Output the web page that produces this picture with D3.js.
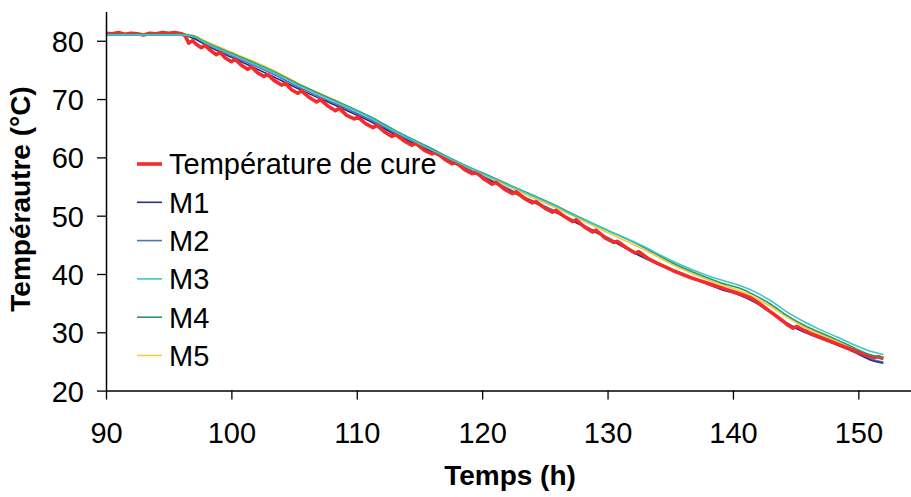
<!DOCTYPE html>
<html>
<head>
<meta charset="utf-8">
<script src="https://cdn.jsdelivr.net/npm/d3@7/dist/d3.min.js"></script>
<style>
  html, body { margin: 0; padding: 0; background: #fff; }
  svg { display: block; }
  text { font-family: "Liberation Sans", Arial, sans-serif; fill: #000; }
</style>
</head>
<body>
<svg id="chart" width="911" height="497"></svg>
<script>
// ---- data ----
const xTicks = [90, 100, 110, 120, 130, 140, 150];
const yTicks = [20, 30, 40, 50, 60, 70, 80];
const xTitle = "Temps (h)";
const yTitle = "Tempérautre (°C)";
const seriesNames = ["Température de cure", "M1", "M2", "M3", "M4", "M5"];
const seriesColors = ["#f52a2a", "#2b2d80", "#5273c2", "#3cc6c4", "#2f9566", "#f2cd3c"];

const cure = [[90,81.3],[90.5,81.2],[91,81.4],[91.5,81.1],[92,81.3],[92.5,81.2],[93,81.0],[93.5,81.3],[94,81.2],[94.5,81.4],[95,81.3],[95.5,81.4],[96,81.2],[96.3,80.9],
 [96.6,79.6],[96.9,80.0],[97.2,79.4],[97.6,78.8],[97.9,79.2],[98.3,78.4],[98.8,77.6],[99.1,78.0],[99.5,77.1],[100,76.4],[100.3,76.8],[100.8,75.8],[101.3,75.1],[101.6,75.5],[102.1,74.5],[102.6,73.9],[102.9,74.2],[103.4,73.2],[104,72.4],[104.3,72.7],[104.8,71.6],[105.3,71.0],[105.6,71.4],[106.2,70.3],[106.8,69.5],[107.1,69.9],[107.7,68.8],[108.3,68.0],[108.6,68.4],[109.2,67.2],[109.8,66.6],[110.1,66.9],[110.7,65.8],[111.3,65.1],[111.6,65.5],[112.2,64.4],[112.8,63.6],[113.1,63.9],[113.8,62.8],[114.4,62.1],[114.7,62.4],[115.4,61.2],
 [116,60.6],[116.3,60.9],[117,59.7],[117.6,58.9],[117.9,59.2],[118.6,57.9],[119.2,57.2],[119.5,57.5],[120.2,56.2],[120.8,55.4],[121.1,55.7],[121.8,54.5],[122.4,53.8],[122.7,54.1],[123.4,52.9],[124,52.2],[124.3,52.4],[125,51.3],[125.6,50.6],[125.9,50.9],[126.6,49.8],[127.2,49.0],[127.5,49.3],[128.2,48.0],[128.8,47.2],[129.1,47.5],[129.8,46.2],[130.5,45.4],[130.8,45.6],[131.5,44.5],[132.2,43.6],[132.5,43.8],[133.2,42.7],[133.9,41.9],[134.6,41.2],[135.2,40.6],
 [135.9,40.0],[136.6,39.4],[137.3,38.9],[138,38.4],[138.7,37.9],[139.4,37.4],[140.1,36.9],[140.8,36.4],[141.4,35.9],[142,35.1],[142.5,34.3],[143,33.5],[143.5,32.7],[144,31.9],[144.4,31.2],[144.8,30.7],[145.1,31.0],[145.6,30.4],[146.2,29.8],[146.9,29.2],[147.5,28.7],[148.2,28.1],[148.9,27.5],[149.5,27.0],[150.1,26.5],[150.7,26.0],[151.2,25.7],[151.6,25.8],[152,25.5]];

const m1 = [[90,81.0],[96,81.0],[97,80.4],[98,79.2],[100.4,76.8],[103.1,74.1],[105.7,71.4],[108.4,68.8],[111.05,66.2],[112.9,64.1],[115.6,61.3],[118.2,58.5],[120.9,55.7],[123.5,52.9],[125.9,50.5],[127.3,49.0],[129.9,46.2],[132.6,43.1],[135.2,40.6],[137.9,38.3],[139,37.4],[140.6,36.3],[141.6,35.3],[142.95,33.5],[144.3,31.5],[145.6,30.1],[146.9,29.0],[148.3,27.8],[149.6,26.65],[150.9,25.3],[151.5,24.9],[152,24.7]];
const m2 = [[90,81.1],[96,81.1],[97,80.6],[98,79.5],[100.4,77.1],[103.1,74.5],[105.7,71.7],[108.4,69.1],[111.05,66.5],[112.9,64.4],[115.6,61.5],[118.2,58.7],[120.9,55.9],[123.5,53.1],[125.9,50.7],[127.3,49.2],[129.9,46.4],[132.6,43.3],[135.2,40.7],[137.9,38.4],[139,37.5],[140.6,36.4],[141.6,35.4],[142.95,33.6],[144.3,31.6],[145.6,30.2],[146.9,29.1],[148.3,27.9],[149.6,26.8],[150.9,25.5],[151.5,25.1],[152,24.9]];
const m3 = [[90,81.0],[96,81.0],[97,80.7],[97.8,79.8],[100.4,77.3],[103.1,74.8],[105.7,72.0],[108.4,69.4],[111.05,66.8],[112.9,64.6],[115.6,61.7],[118.2,59.0],[120.9,56.4],[123.5,53.9],[125.9,51.6],[127.3,50.1],[129.9,47.6],[132.6,45.0],[135.2,42.2],[137.9,39.8],[139,39.0],[140.6,38.0],[141.6,37.1],[142.95,35.5],[144.3,33.5],[145.6,31.9],[146.9,30.5],[148.3,29.2],[149.6,27.9],[150.9,26.8],[152,26.2]];
const m4 = [[90,81.1],[96,81.1],[97,80.8],[97.8,79.9],[100.4,77.5],[103.1,75.0],[105.7,72.2],[108.4,69.6],[111.05,67.0],[112.9,64.8],[115.6,61.9],[118.2,59.1],[120.9,56.5],[123.5,54.0],[125.9,51.7],[127.3,50.2],[129.9,47.6],[132.6,44.9],[135.2,41.9],[137.9,39.4],[139,38.5],[140.6,37.5],[141.6,36.5],[142.95,34.9],[144.3,32.9],[145.6,31.3],[146.9,30.0],[148.3,28.7],[149.6,27.4],[150.9,26.2],[152,25.6]];
const m5 = [[90,81.2],[96,81.2],[97,80.9],[97.8,80.1],[100.4,77.7],[103.1,75.2],[105.7,72.3],[108.4,69.7],[111.05,66.9],[112.9,64.6],[115.6,61.7],[118.2,58.9],[120.9,56.2],[123.5,53.6],[125.9,51.3],[127.3,49.9],[129.9,47.2],[132.6,44.5],[135.2,41.6],[137.9,39.1],[139,38.2],[140.6,37.1],[141.6,36.1],[142.95,34.5],[144.3,32.6],[145.6,31.0],[146.9,29.7],[148.3,28.4],[149.6,27.1],[150.9,26.0],[152,25.4]];

const seriesData = [cure, m1, m2, m3, m4, m5];

// ---- drawing ----
const svg = d3.select("#chart");
const x = d3.scaleLinear().domain([90, 154.2]).range([106, 911]);
const y = d3.scaleLinear().domain([20, 85]).range([390.6, 11.6]);

const fontSize = 29;

// Series lines (draw order: M5, M2, M1, cure, M4, M3)
const line = d3.line().x(d => x(d[0])).y(d => y(d[1]));
const smooth = d3.line().x(d => x(d[0])).y(d => y(d[1])).curve(d3.curveMonotoneX);
const drawOrder = [5, 2, 1, 0, 4, 3];
drawOrder.forEach(i => {
  svg.append("path")
    .datum(seriesData[i])
    .attr("fill", "none")
    .attr("stroke", seriesColors[i])
    .attr("stroke-width", i === 0 ? 3.6 : 1.6)
    .attr("stroke-linejoin", "round")
    .attr("d", i === 0 ? line : smooth);
});

// Axes
const xAxis = d3.axisBottom(x).tickValues(xTicks).tickSize(9).tickSizeOuter(0).tickPadding(0);
const yAxis = d3.axisLeft(y).tickValues(yTicks).tickSize(9).tickSizeOuter(0).tickPadding(0);

const gx = svg.append("g").attr("transform", `translate(0,${y(20)})`).call(xAxis);
const gy = svg.append("g").attr("transform", `translate(${x(90)},0)`).call(yAxis);

[gx, gy].forEach(g => {
  g.select(".domain").attr("stroke", "#000").attr("stroke-width", 1.5);
  g.selectAll(".tick line").attr("stroke", "#000").attr("stroke-width", 1.3);
  g.selectAll(".tick text").attr("font-size", fontSize).attr("fill", "#000")
    .attr("font-family", "Liberation Sans, Arial, sans-serif");
});
gx.selectAll(".tick text").attr("y", 0).attr("dy", null)
  .attr("transform", "translate(0,52)");
gy.selectAll(".tick text").attr("x", -22).attr("dy", "0.36em");

// Axis titles
svg.append("text")
  .attr("x", 510).attr("y", 485)
  .attr("text-anchor", "middle")
  .attr("font-size", 28).attr("font-weight", "bold")
  .text(xTitle);
svg.append("text")
  .attr("transform", "translate(30,199) rotate(-90)")
  .attr("text-anchor", "middle")
  .attr("font-size", 28).attr("font-weight", "bold")
  .text(yTitle);

// Legend
const legend = svg.append("g");
seriesNames.forEach((name, i) => {
  const cy = 164 + i * 38.3;
  legend.append("line")
    .attr("x1", 137).attr("x2", 162).attr("y1", cy).attr("y2", cy)
    .attr("stroke", seriesColors[i]).attr("stroke-width", i === 0 ? 3.6 : 1.6);
  legend.append("text")
    .attr("x", 169).attr("y", cy).attr("dy", "0.36em")
    .attr("font-size", fontSize)
    .text(name);
});
</script>
</body>
</html>
